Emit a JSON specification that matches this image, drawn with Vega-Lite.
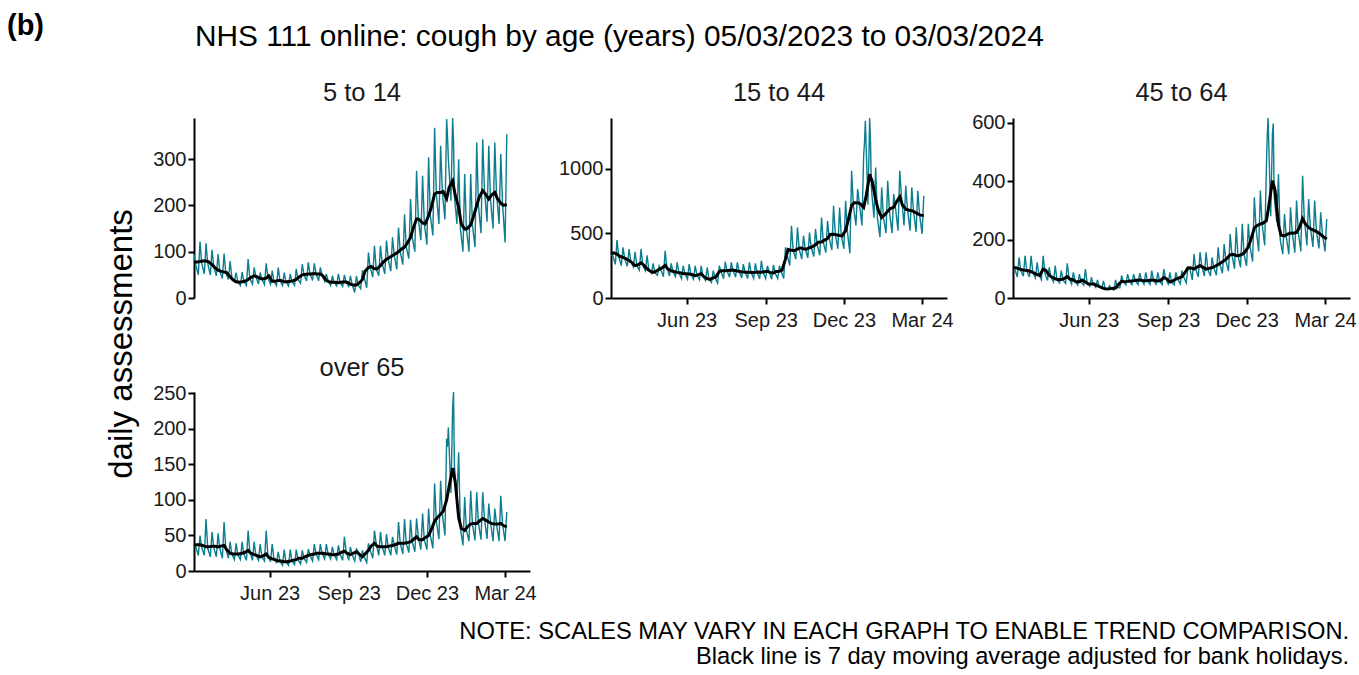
{
  "$schema": "https://vega.github.io/schema/vega-lite/v6.json",
  "padding": {"left": 7, "top": 11, "right": 0, "bottom": 3},
  "datasets": {
    "raw": [
      {"d":"2023-03-05","a":95,"b":330,"c":105,"e":35},
      {"d":"2023-03-07","a":72,"b":330,"c":100,"e":34},
      {"d":"2023-03-10","a":50,"b":260,"c":72,"e":22},
      {"d":"2023-03-12","a":122,"b":447,"c":139,"e":50},
      {"d":"2023-03-14","a":75,"b":320,"c":95,"e":33},
      {"d":"2023-03-17","a":52,"b":250,"c":75,"e":22},
      {"d":"2023-03-19","a":118,"b":391,"c":145,"e":73},
      {"d":"2023-03-21","a":74,"b":300,"c":92,"e":32},
      {"d":"2023-03-24","a":50,"b":245,"c":72,"e":20},
      {"d":"2023-03-26","a":104,"b":378,"c":145,"e":55},
      {"d":"2023-03-28","a":68,"b":285,"c":88,"e":33},
      {"d":"2023-03-31","a":48,"b":240,"c":68,"e":20},
      {"d":"2023-04-02","a":95,"b":357,"c":122,"e":53},
      {"d":"2023-04-04","a":58,"b":250,"c":80,"e":32},
      {"d":"2023-04-07","a":42,"b":215,"c":62,"e":18},
      {"d":"2023-04-09","a":96,"b":380,"c":145,"e":69},
      {"d":"2023-04-11","a":55,"b":250,"c":85,"e":32},
      {"d":"2023-04-14","a":40,"b":210,"c":60,"e":18},
      {"d":"2023-04-16","a":80,"b":330,"c":105,"e":41},
      {"d":"2023-04-18","a":45,"b":215,"c":72,"e":24},
      {"d":"2023-04-21","a":36,"b":190,"c":55,"e":16},
      {"d":"2023-04-23","a":55,"b":267,"c":111,"e":39},
      {"d":"2023-04-25","a":35,"b":195,"c":62,"e":23},
      {"d":"2023-04-28","a":27,"b":175,"c":52,"e":16},
      {"d":"2023-04-30","a":56,"b":249,"c":94,"e":41},
      {"d":"2023-05-02","a":36,"b":215,"c":62,"e":24},
      {"d":"2023-05-05","a":27,"b":165,"c":50,"e":15},
      {"d":"2023-05-07","a":84,"b":365,"c":119,"e":57},
      {"d":"2023-05-09","a":42,"b":240,"c":70,"e":27},
      {"d":"2023-05-12","a":30,"b":170,"c":48,"e":15},
      {"d":"2023-05-14","a":66,"b":267,"c":88,"e":41},
      {"d":"2023-05-16","a":46,"b":205,"c":60,"e":22},
      {"d":"2023-05-19","a":30,"b":165,"c":45,"e":15},
      {"d":"2023-05-21","a":55,"b":275,"c":82,"e":38},
      {"d":"2023-05-23","a":41,"b":195,"c":55,"e":20},
      {"d":"2023-05-26","a":29,"b":150,"c":44,"e":14},
      {"d":"2023-05-28","a":75,"b":249,"c":99,"e":57},
      {"d":"2023-05-30","a":44,"b":188,"c":52,"e":22},
      {"d":"2023-06-02","a":30,"b":145,"c":40,"e":13},
      {"d":"2023-06-04","a":59,"b":262,"c":71,"e":38},
      {"d":"2023-06-06","a":36,"b":182,"c":47,"e":17},
      {"d":"2023-06-09","a":27,"b":145,"c":36,"e":12},
      {"d":"2023-06-11","a":66,"b":249,"c":62,"e":27},
      {"d":"2023-06-13","a":38,"b":175,"c":40,"e":14},
      {"d":"2023-06-16","a":27,"b":140,"c":33,"e":8},
      {"d":"2023-06-18","a":55,"b":249,"c":59,"e":30},
      {"d":"2023-06-20","a":35,"b":170,"c":32,"e":13},
      {"d":"2023-06-23","a":26,"b":135,"c":30,"e":8},
      {"d":"2023-06-25","a":52,"b":237,"c":42,"e":30},
      {"d":"2023-06-27","a":36,"b":145,"c":32,"e":14},
      {"d":"2023-06-30","a":27,"b":120,"c":27,"e":9},
      {"d":"2023-07-02","a":63,"b":211,"c":62,"e":30},
      {"d":"2023-07-04","a":40,"b":158,"c":36,"e":16},
      {"d":"2023-07-07","a":32,"b":115,"c":35,"e":10},
      {"d":"2023-07-09","a":73,"b":249,"c":77,"e":29},
      {"d":"2023-07-11","a":50,"b":205,"c":56,"e":18},
      {"d":"2023-07-14","a":37,"b":150,"c":45,"e":12},
      {"d":"2023-07-16","a":77,"b":280,"c":82,"e":31},
      {"d":"2023-07-18","a":52,"b":210,"c":57,"e":22},
      {"d":"2023-07-21","a":38,"b":160,"c":46,"e":14},
      {"d":"2023-07-23","a":75,"b":275,"c":82,"e":38},
      {"d":"2023-07-25","a":53,"b":215,"c":59,"e":24},
      {"d":"2023-07-28","a":37,"b":160,"c":46,"e":16},
      {"d":"2023-07-30","a":66,"b":275,"c":85,"e":38},
      {"d":"2023-08-01","a":50,"b":208,"c":61,"e":25},
      {"d":"2023-08-04","a":36,"b":155,"c":47,"e":17},
      {"d":"2023-08-06","a":52,"b":262,"c":88,"e":38},
      {"d":"2023-08-08","a":38,"b":200,"c":59,"e":24},
      {"d":"2023-08-11","a":27,"b":150,"c":46,"e":17},
      {"d":"2023-08-13","a":48,"b":275,"c":94,"e":34},
      {"d":"2023-08-15","a":34,"b":198,"c":61,"e":23},
      {"d":"2023-08-18","a":26,"b":150,"c":47,"e":16},
      {"d":"2023-08-20","a":52,"b":267,"c":88,"e":36},
      {"d":"2023-08-22","a":33,"b":198,"c":58,"e":24},
      {"d":"2023-08-25","a":25,"b":148,"c":46,"e":15},
      {"d":"2023-08-27","a":50,"b":288,"c":99,"e":48},
      {"d":"2023-08-29","a":35,"b":200,"c":68,"e":28},
      {"d":"2023-09-01","a":25,"b":150,"c":48,"e":15},
      {"d":"2023-09-03","a":48,"b":249,"c":88,"e":34},
      {"d":"2023-09-05","a":30,"b":205,"c":55,"e":23},
      {"d":"2023-09-08","a":12,"b":145,"c":45,"e":14},
      {"d":"2023-09-10","a":48,"b":255,"c":88,"e":31},
      {"d":"2023-09-12","a":28,"b":193,"c":65,"e":27},
      {"d":"2023-09-15","a":20,"b":150,"c":48,"e":13},
      {"d":"2023-09-17","a":60,"b":249,"c":94,"e":29},
      {"d":"2023-09-19","a":45,"b":206,"c":73,"e":20},
      {"d":"2023-09-22","a":22,"b":150,"c":52,"e":12},
      {"d":"2023-09-24","a":98,"b":391,"c":105,"e":39},
      {"d":"2023-09-26","a":66,"b":330,"c":103,"e":29},
      {"d":"2023-09-29","a":45,"b":250,"c":62,"e":18},
      {"d":"2023-10-01","a":113,"b":558,"c":151,"e":57},
      {"d":"2023-10-03","a":63,"b":368,"c":99,"e":39},
      {"d":"2023-10-06","a":48,"b":300,"c":72,"e":22},
      {"d":"2023-10-08","a":113,"b":545,"c":157,"e":55},
      {"d":"2023-10-10","a":75,"b":378,"c":111,"e":34},
      {"d":"2023-10-13","a":52,"b":300,"c":75,"e":22},
      {"d":"2023-10-15","a":124,"b":481,"c":157,"e":52},
      {"d":"2023-10-17","a":84,"b":380,"c":99,"e":34},
      {"d":"2023-10-20","a":58,"b":310,"c":75,"e":22},
      {"d":"2023-10-22","a":131,"b":506,"c":139,"e":48},
      {"d":"2023-10-24","a":92,"b":388,"c":104,"e":36},
      {"d":"2023-10-27","a":62,"b":320,"c":78,"e":23},
      {"d":"2023-10-29","a":152,"b":532,"c":174,"e":69},
      {"d":"2023-10-31","a":100,"b":410,"c":115,"e":39},
      {"d":"2023-11-03","a":72,"b":330,"c":85,"e":24},
      {"d":"2023-11-05","a":181,"b":622,"c":185,"e":73},
      {"d":"2023-11-07","a":110,"b":432,"c":128,"e":39},
      {"d":"2023-11-10","a":85,"b":350,"c":92,"e":26},
      {"d":"2023-11-12","a":214,"b":596,"c":219,"e":72},
      {"d":"2023-11-14","a":131,"b":460,"c":148,"e":41},
      {"d":"2023-11-17","a":100,"b":370,"c":100,"e":27},
      {"d":"2023-11-19","a":275,"b":712,"c":242,"e":74},
      {"d":"2023-11-21","a":171,"b":492,"c":146,"e":48},
      {"d":"2023-11-24","a":125,"b":380,"c":105,"e":30},
      {"d":"2023-11-26","a":264,"b":699,"c":254,"e":81},
      {"d":"2023-11-28","a":162,"b":482,"c":150,"e":44},
      {"d":"2023-12-01","a":115,"b":380,"c":110,"e":30},
      {"d":"2023-12-03","a":304,"b":751,"c":254,"e":88},
      {"d":"2023-12-05","a":178,"b":520,"c":175,"e":50},
      {"d":"2023-12-08","a":135,"b":345,"c":125,"e":32},
      {"d":"2023-12-10","a":368,"b":982,"c":345,"e":123},
      {"d":"2023-12-12","a":225,"b":715,"c":240,"e":70},
      {"d":"2023-12-15","a":160,"b":560,"c":160,"e":45},
      {"d":"2023-12-17","a":329,"b":841,"c":368,"e":127},
      {"d":"2023-12-19","a":228,"b":732,"c":254,"e":80},
      {"d":"2023-12-22","a":170,"b":560,"c":180,"e":50},
      {"d":"2023-12-24","a":387,"b":1098,"c":448,"e":186},
      {"d":"2023-12-25","a":350,"b":1200,"c":560,"e":175},
      {"d":"2023-12-26","a":300,"b":1368,"c":617,"e":202},
      {"d":"2023-12-29","a":210,"b":720,"c":280,"e":110},
      {"d":"2023-12-31","a":389,"b":1390,"c":565,"e":230},
      {"d":"2024-01-01","a":340,"b":1200,"c":598,"e":252},
      {"d":"2024-01-02","a":220,"b":850,"c":350,"e":150},
      {"d":"2024-01-05","a":160,"b":620,"c":260,"e":100},
      {"d":"2024-01-07","a":300,"b":1008,"c":425,"e":167},
      {"d":"2024-01-09","a":150,"b":620,"c":200,"e":60},
      {"d":"2024-01-12","a":100,"b":470,"c":150,"e":36},
      {"d":"2024-01-14","a":268,"b":854,"c":288,"e":104},
      {"d":"2024-01-16","a":149,"b":622,"c":213,"e":57},
      {"d":"2024-01-19","a":100,"b":500,"c":150,"e":42},
      {"d":"2024-01-21","a":268,"b":905,"c":311,"e":113},
      {"d":"2024-01-23","a":158,"b":670,"c":223,"e":66},
      {"d":"2024-01-26","a":110,"b":500,"c":155,"e":43},
      {"d":"2024-01-28","a":336,"b":802,"c":334,"e":111},
      {"d":"2024-01-30","a":200,"b":700,"c":225,"e":67},
      {"d":"2024-02-02","a":140,"b":520,"c":160,"e":44},
      {"d":"2024-02-04","a":343,"b":982,"c":419,"e":111},
      {"d":"2024-02-06","a":232,"b":782,"c":272,"e":74},
      {"d":"2024-02-09","a":165,"b":560,"c":180,"e":45},
      {"d":"2024-02-11","a":329,"b":866,"c":339,"e":95},
      {"d":"2024-02-13","a":214,"b":686,"c":242,"e":69},
      {"d":"2024-02-16","a":150,"b":520,"c":175,"e":42},
      {"d":"2024-02-18","a":336,"b":854,"c":334,"e":88},
      {"d":"2024-02-20","a":228,"b":674,"c":231,"e":66},
      {"d":"2024-02-23","a":160,"b":510,"c":170,"e":42},
      {"d":"2024-02-25","a":311,"b":828,"c":294,"e":106},
      {"d":"2024-02-27","a":205,"b":650,"c":218,"e":67},
      {"d":"2024-03-01","a":120,"b":495,"c":160,"e":42},
      {"d":"2024-03-03","a":354,"b":789,"c":271,"e":83}
    ],
    "avg": [
      {"d":"2023-03-05","a":77,"b":340,"c":105,"e":36},
      {"d":"2023-03-08","a":78,"b":348,"c":104,"e":37},
      {"d":"2023-03-12","a":79,"b":340,"c":100,"e":37},
      {"d":"2023-03-15","a":80,"b":322,"c":97,"e":36},
      {"d":"2023-03-19","a":80,"b":314,"c":95,"e":34},
      {"d":"2023-03-22","a":78,"b":305,"c":94,"e":34},
      {"d":"2023-03-26","a":72,"b":290,"c":90,"e":35},
      {"d":"2023-03-29","a":66,"b":275,"c":86,"e":35},
      {"d":"2023-04-02","a":60,"b":250,"c":80,"e":34},
      {"d":"2023-04-05","a":58,"b":255,"c":77,"e":35},
      {"d":"2023-04-09","a":56,"b":272,"c":99,"e":36},
      {"d":"2023-04-12","a":55,"b":255,"c":95,"e":30},
      {"d":"2023-04-16","a":46,"b":225,"c":78,"e":25},
      {"d":"2023-04-19","a":40,"b":210,"c":72,"e":24},
      {"d":"2023-04-23","a":35,"b":198,"c":66,"e":24},
      {"d":"2023-04-26","a":34,"b":205,"c":63,"e":24},
      {"d":"2023-04-30","a":35,"b":222,"c":63,"e":25},
      {"d":"2023-05-03","a":36,"b":230,"c":66,"e":26},
      {"d":"2023-05-07","a":40,"b":252,"c":73,"e":29},
      {"d":"2023-05-10","a":44,"b":225,"c":65,"e":25},
      {"d":"2023-05-14","a":48,"b":210,"c":62,"e":23},
      {"d":"2023-05-17","a":46,"b":205,"c":56,"e":22},
      {"d":"2023-05-21","a":42,"b":198,"c":56,"e":20},
      {"d":"2023-05-24","a":41,"b":195,"c":62,"e":21},
      {"d":"2023-05-28","a":43,"b":190,"c":55,"e":24},
      {"d":"2023-05-31","a":48,"b":188,"c":49,"e":19},
      {"d":"2023-06-04","a":36,"b":185,"c":48,"e":17},
      {"d":"2023-06-07","a":36,"b":182,"c":48,"e":16},
      {"d":"2023-06-11","a":38,"b":172,"c":42,"e":14},
      {"d":"2023-06-14","a":38,"b":178,"c":38,"e":14},
      {"d":"2023-06-18","a":35,"b":188,"c":33,"e":13},
      {"d":"2023-06-21","a":35,"b":165,"c":31,"e":13},
      {"d":"2023-06-25","a":36,"b":150,"c":32,"e":14},
      {"d":"2023-06-28","a":37,"b":143,"c":33,"e":15},
      {"d":"2023-07-02","a":40,"b":155,"c":34,"e":16},
      {"d":"2023-07-05","a":45,"b":162,"c":45,"e":18},
      {"d":"2023-07-09","a":50,"b":205,"c":57,"e":18},
      {"d":"2023-07-12","a":51,"b":211,"c":56,"e":20},
      {"d":"2023-07-16","a":52,"b":211,"c":57,"e":22},
      {"d":"2023-07-19","a":52,"b":213,"c":58,"e":23},
      {"d":"2023-07-23","a":53,"b":216,"c":59,"e":24},
      {"d":"2023-07-26","a":52,"b":214,"c":61,"e":25},
      {"d":"2023-07-30","a":52,"b":208,"c":62,"e":25},
      {"d":"2023-08-02","a":48,"b":205,"c":60,"e":25},
      {"d":"2023-08-06","a":38,"b":200,"c":59,"e":24},
      {"d":"2023-08-09","a":35,"b":198,"c":60,"e":24},
      {"d":"2023-08-13","a":34,"b":198,"c":62,"e":23},
      {"d":"2023-08-16","a":34,"b":197,"c":61,"e":23},
      {"d":"2023-08-20","a":33,"b":198,"c":58,"e":24},
      {"d":"2023-08-23","a":34,"b":200,"c":60,"e":26},
      {"d":"2023-08-27","a":35,"b":198,"c":70,"e":28},
      {"d":"2023-08-30","a":34,"b":202,"c":66,"e":25},
      {"d":"2023-09-03","a":30,"b":206,"c":55,"e":23},
      {"d":"2023-09-06","a":28,"b":198,"c":58,"e":25},
      {"d":"2023-09-10","a":28,"b":193,"c":65,"e":27},
      {"d":"2023-09-13","a":32,"b":205,"c":68,"e":24},
      {"d":"2023-09-17","a":40,"b":206,"c":73,"e":20},
      {"d":"2023-09-20","a":58,"b":215,"c":85,"e":24},
      {"d":"2023-09-24","a":66,"b":300,"c":103,"e":29},
      {"d":"2023-09-27","a":68,"b":375,"c":104,"e":35},
      {"d":"2023-10-01","a":63,"b":368,"c":99,"e":39},
      {"d":"2023-10-04","a":63,"b":365,"c":105,"e":35},
      {"d":"2023-10-08","a":70,"b":378,"c":111,"e":34},
      {"d":"2023-10-11","a":77,"b":388,"c":106,"e":34},
      {"d":"2023-10-15","a":84,"b":380,"c":99,"e":34},
      {"d":"2023-10-18","a":87,"b":376,"c":101,"e":35},
      {"d":"2023-10-22","a":92,"b":388,"c":104,"e":36},
      {"d":"2023-10-25","a":95,"b":395,"c":108,"e":37},
      {"d":"2023-10-29","a":100,"b":410,"c":115,"e":39},
      {"d":"2023-11-01","a":105,"b":430,"c":120,"e":39},
      {"d":"2023-11-05","a":110,"b":432,"c":128,"e":39},
      {"d":"2023-11-08","a":118,"b":445,"c":135,"e":40},
      {"d":"2023-11-12","a":131,"b":460,"c":148,"e":41},
      {"d":"2023-11-15","a":150,"b":490,"c":150,"e":44},
      {"d":"2023-11-19","a":171,"b":492,"c":146,"e":48},
      {"d":"2023-11-22","a":170,"b":488,"c":145,"e":44},
      {"d":"2023-11-26","a":162,"b":482,"c":150,"e":44},
      {"d":"2023-11-29","a":160,"b":480,"c":157,"e":47},
      {"d":"2023-12-03","a":178,"b":520,"c":175,"e":50},
      {"d":"2023-12-06","a":195,"b":600,"c":200,"e":58},
      {"d":"2023-12-10","a":225,"b":715,"c":240,"e":70},
      {"d":"2023-12-13","a":228,"b":735,"c":248,"e":75},
      {"d":"2023-12-17","a":228,"b":735,"c":254,"e":80},
      {"d":"2023-12-20","a":230,"b":728,"c":256,"e":84},
      {"d":"2023-12-24","a":215,"b":700,"c":265,"e":100},
      {"d":"2023-12-27","a":240,"b":790,"c":320,"e":120},
      {"d":"2023-12-31","a":253,"b":956,"c":402,"e":145},
      {"d":"2024-01-03","a":222,"b":900,"c":370,"e":125},
      {"d":"2024-01-07","a":196,"b":760,"c":250,"e":75},
      {"d":"2024-01-10","a":160,"b":680,"c":215,"e":60},
      {"d":"2024-01-14","a":149,"b":622,"c":213,"e":57},
      {"d":"2024-01-17","a":150,"b":640,"c":218,"e":62},
      {"d":"2024-01-21","a":158,"b":670,"c":223,"e":66},
      {"d":"2024-01-24","a":175,"b":690,"c":222,"e":67},
      {"d":"2024-01-28","a":200,"b":700,"c":225,"e":67},
      {"d":"2024-01-31","a":218,"b":740,"c":240,"e":70},
      {"d":"2024-02-04","a":232,"b":782,"c":272,"e":74},
      {"d":"2024-02-07","a":225,"b":720,"c":255,"e":72},
      {"d":"2024-02-11","a":214,"b":686,"c":242,"e":69},
      {"d":"2024-02-14","a":222,"b":680,"c":236,"e":67},
      {"d":"2024-02-18","a":228,"b":674,"c":231,"e":66},
      {"d":"2024-02-21","a":215,"b":665,"c":226,"e":66},
      {"d":"2024-02-25","a":205,"b":650,"c":218,"e":67},
      {"d":"2024-02-28","a":200,"b":640,"c":210,"e":64},
      {"d":"2024-03-03","a":202,"b":636,"c":202,"e":62}
    ]
  },
  "title": {"text": "(b)", "anchor": "start", "frame": "group", "fontSize": 29, "fontWeight": "bold", "color": "#000", "dx": -187, "offset": -19},
  "vconcat": [
    {
      "title": {
        "text": ["NOTE: SCALES MAY VARY IN EACH GRAPH TO ENABLE TREND COMPARISON.", "Black line is 7 day moving average adjusted for bank holidays."],
        "orient": "bottom", "anchor": "end", "fontSize": 23.7, "lineHeight": 25, "offset": 16.5, "dx": -7, "color": "#000"
      },
      "vconcat": [
        {
          "title": {"text": "daily assessments", "orient": "left", "anchor": "middle", "frame": "bounds", "fontSize": 33, "offset": 14, "dx": -31.5, "color": "#000"},
          "spacing": 26,
          "vconcat": [
            {
              "title": {"text": "NHS 111 online: cough by age (years) 05/03/2023 to 03/03/2024", "anchor": "start", "frame": "group", "fontSize": 29.8, "offset": 29, "dx": 1, "color": "#000"},
              "spacing": 17,
              "hconcat": [
                {
                  "spacing": 28,
                  "hconcat": [
                    {
                      "width": 336, "height": 180,
                      "title": {"text": "5 to 14", "fontSize": 25.5, "offset": 9},
                      "encoding": {
                        "x": {"field": "d", "type": "temporal", "title": null,
                          "scale": {"type": "utc", "domain": [{"year": 2023, "month": 3, "date": 5, "utc": true}, {"year": 2024, "month": 3, "date": 30, "utc": true}]},
                          "axis": null},
                        "y": {"field": "a", "type": "quantitative",
                          "scale": {"domain": [0, 389], "nice": false},
                          "axis": {"values": [0, 100, 200, 300], "title": null, "format": "d"}}
                      },
                      "layer": [
                        {"data": {"name": "raw"}, "mark": {"type": "line", "color": "#0b7d8f", "strokeWidth": 1.4}},
                        {"data": {"name": "avg"}, "mark": {"type": "line", "color": "#000000", "strokeWidth": 3}}
                      ]
                    },
                    {
                      "width": 336, "height": 180,
                      "title": {"text": "15 to 44", "fontSize": 25.5, "offset": 9},
                      "encoding": {
                        "x": {"field": "d", "type": "temporal", "title": null,
                          "scale": {"type": "utc", "domain": [{"year": 2023, "month": 3, "date": 5, "utc": true}, {"year": 2024, "month": 3, "date": 30, "utc": true}]},
                          "axis": {"values": [{"year": 2023, "month": 6, "date": 1, "utc": true}, {"year": 2023, "month": 9, "date": 1, "utc": true}, {"year": 2023, "month": 12, "date": 1, "utc": true}, {"year": 2024, "month": 3, "date": 1, "utc": true}], "format": "%b %y", "labelOverlap": false, "labelFlush": false}},
                        "y": {"field": "b", "type": "quantitative",
                          "scale": {"domain": [0, 1390], "nice": false},
                          "axis": {"values": [0, 500, 1000], "title": null, "format": "d"}}
                      },
                      "layer": [
                        {"data": {"name": "raw"}, "mark": {"type": "line", "color": "#0b7d8f", "strokeWidth": 1.4}},
                        {"data": {"name": "avg"}, "mark": {"type": "line", "color": "#000000", "strokeWidth": 3}}
                      ]
                    }
                  ]
                },
                {
                  "width": 337, "height": 180,
                  "title": {"text": "45 to 64", "fontSize": 25.5, "offset": 6.5},
                  "encoding": {
                    "x": {"field": "d", "type": "temporal", "title": null,
                      "scale": {"type": "utc", "domain": [{"year": 2023, "month": 3, "date": 5, "utc": true}, {"year": 2024, "month": 3, "date": 30, "utc": true}]},
                      "axis": {"values": [{"year": 2023, "month": 6, "date": 1, "utc": true}, {"year": 2023, "month": 9, "date": 1, "utc": true}, {"year": 2023, "month": 12, "date": 1, "utc": true}, {"year": 2024, "month": 3, "date": 1, "utc": true}], "format": "%b %y", "labelOverlap": false, "labelFlush": false}},
                    "y": {"field": "c", "type": "quantitative",
                      "scale": {"domain": [0, 617], "nice": false},
                      "axis": {"values": [0, 200, 400, 600], "title": null, "format": "d"}}
                  },
                  "layer": [
                    {"data": {"name": "raw"}, "mark": {"type": "line", "color": "#0b7d8f", "strokeWidth": 1.4}},
                    {"data": {"name": "avg"}, "mark": {"type": "line", "color": "#000000", "strokeWidth": 3}}
                  ]
                }
              ]
            },
            {
              "width": 336, "height": 179,
              "title": {"text": "over 65", "fontSize": 25.5, "offset": 1.5},
              "encoding": {
                "x": {"field": "d", "type": "temporal", "title": null,
                  "scale": {"type": "utc", "domain": [{"year": 2023, "month": 3, "date": 5, "utc": true}, {"year": 2024, "month": 3, "date": 30, "utc": true}]},
                  "axis": {"values": [{"year": 2023, "month": 6, "date": 1, "utc": true}, {"year": 2023, "month": 9, "date": 1, "utc": true}, {"year": 2023, "month": 12, "date": 1, "utc": true}, {"year": 2024, "month": 3, "date": 1, "utc": true}], "format": "%b %y", "labelOverlap": false, "labelFlush": false}},
                "y": {"field": "e", "type": "quantitative",
                  "scale": {"domain": [0, 252], "nice": false},
                  "axis": {"values": [0, 50, 100, 150, 200, 250], "title": null, "format": "d"}}
              },
              "layer": [
                {"data": {"name": "raw"}, "mark": {"type": "line", "color": "#0b7d8f", "strokeWidth": 1.4}},
                {"data": {"name": "avg"}, "mark": {"type": "line", "color": "#000000", "strokeWidth": 3}}
              ]
            }
          ]
        }
      ]
    }
  ],
  "config": {
    "view": {"stroke": null},
    "font": "Liberation Sans",
    "axis": {"grid": false, "domainColor": "#000", "domainWidth": 2, "tickColor": "#000", "tickWidth": 2, "tickSize": 6, "labelFontSize": 20, "labelColor": "#1a1a1a", "labelFont": "Liberation Sans", "titleFont": "Liberation Sans"},
    "axisY": {"labelPadding": 2},
    "axisX": {"labelPadding": 6},
    "title": {"font": "Liberation Sans", "fontWeight": "normal", "color": "#1a1a1a", "baseline": "alphabetic"}
  }
}
